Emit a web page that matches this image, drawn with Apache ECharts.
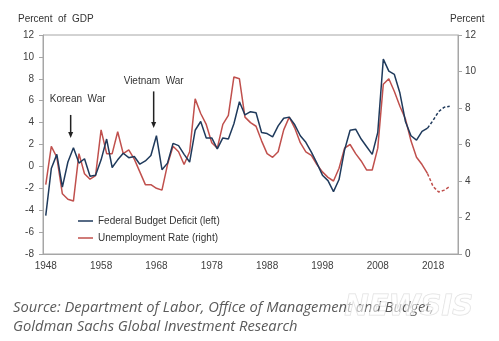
<!DOCTYPE html>
<html>
<head>
<meta charset="utf-8">
<script src="https://cdn.jsdelivr.net/npm/echarts@6/dist/echarts.min.js"></script>
<style>
  html, body { margin: 0; padding: 0; background: #fff; }
  #chart { width: 499px; height: 341px; }
</style>
</head>
<body>
<div id="chart"></div>
<script>
// Fiscal years on the category axis (one slot per year, 1948-2022)
const firstYear = 1948;
const lastYear = 2022;
const years = [];
for (let y = firstYear; y <= lastYear; y++) years.push(String(y));

// Federal budget deficit, % of GDP (positive = deficit), 1948-2017
const deficitActual = [
  -4.5, -0.2, 1.1, -1.9, 0.4, 1.7, 0.3, 0.7, -0.9, -0.8,
   0.6, 2.5, -0.1, 0.6, 1.2, 0.8, 0.9, 0.2, 0.5, 1.0,
   2.8, -0.3, 0.3, 2.1, 1.9, 1.1, 0.4, 3.3, 4.1, 2.6,
   2.6, 1.6, 2.6, 2.5, 3.9, 5.9, 4.7, 5.0, 4.9, 3.1,
   3.0, 2.7, 3.7, 4.4, 4.5, 3.8, 2.8, 2.2, 1.3, 0.3,
  -0.8, -1.3, -2.3, -1.2, 1.5, 3.3, 3.4, 2.5, 1.8, 1.1,
   3.1, 9.8, 8.7, 8.4, 6.7, 4.1, 2.8, 2.4, 3.2, 3.5
];
// Projection, 2017-2021
const deficitProjection = [3.5, 4.2, 5.0, 5.4, 5.5];

// Unemployment rate, %, 1948-2017
const unemploymentActual = [
  3.8, 5.9, 5.3, 3.3, 3.0, 2.9, 5.5, 4.4, 4.1, 4.3,
  6.8, 5.5, 5.5, 6.7, 5.5, 5.7, 5.2, 4.5, 3.8, 3.8,
  3.6, 3.5, 4.9, 5.9, 5.6, 4.9, 5.6, 8.5, 7.7, 7.1,
  6.1, 5.8, 7.1, 7.6, 9.7, 9.6, 7.5, 7.2, 7.0, 6.2,
  5.5, 5.3, 5.6, 6.8, 7.5, 6.9, 6.1, 5.6, 5.4, 4.9,
  4.5, 4.2, 4.0, 4.7, 5.8, 6.0, 5.5, 5.1, 4.6, 4.6,
  5.8, 9.3, 9.6, 8.9, 8.1, 7.4, 6.2, 5.3, 4.9, 4.4
];
// Projection, 2017-2021
const unemploymentProjection = [4.4, 3.7, 3.4, 3.5, 3.7];
const projectionStart = 2017;

const leftTicks = { min: -8, max: 12, interval: 2 };
const rightTicks = { min: 0, max: 12, interval: 2 };

const NAVY = '#1f3a5c';
const RED = '#c0504d';
const AXIS = '#a6a6a6';
const TEXT = '#404040';

function padActual(values) {
  const out = years.map(() => null);
  values.forEach((v, i) => { out[i] = v; });
  return out;
}
function padProjection(values) {
  const out = years.map(() => null);
  const start = projectionStart - firstYear;
  values.forEach((v, i) => { out[start + i] = v; });
  return out;
}

const chart = echarts.init(document.getElementById('chart'), null, { renderer: 'canvas' });

const baseFont = 'Liberation Sans, Arial, sans-serif';

chart.setOption({
  animation: false,
  textStyle: { fontFamily: baseFont },
  grid: {
    left: 43, right: 41, top: 35, bottom: 87,
    show: true, borderColor: AXIS, borderWidth: 1
  },
  legend: {
    data: ['Federal Budget Deficit (left)', 'Unemployment Rate (right)'],
    orient: 'vertical',
    left: 73, top: 211,
    icon: 'rect', itemWidth: 15, itemHeight: 1.5, itemGap: 7,
    textStyle: { fontSize: 10, color: '#333', fontFamily: baseFont }
  },
  xAxis: {
    type: 'category',
    data: years,
    boundaryGap: true,
    axisLine: { onZero: false, lineStyle: { color: AXIS } },
    axisTick: { interval: 9, length: 4, lineStyle: { color: AXIS } },
    axisLabel: { interval: 9, margin: 7, fontSize: 10, color: TEXT }
  },
  yAxis: [
    {
      type: 'value', position: 'left',
      min: leftTicks.min, max: leftTicks.max, interval: leftTicks.interval,
      axisLine: { show: true, lineStyle: { color: AXIS } },
      axisTick: { show: true, length: 4, lineStyle: { color: AXIS } },
      axisLabel: { margin: 9, fontSize: 10, color: TEXT },
      splitLine: { show: false }
    },
    {
      type: 'value', position: 'right',
      min: rightTicks.min, max: rightTicks.max, interval: rightTicks.interval,
      axisLine: { show: true, lineStyle: { color: AXIS } },
      axisTick: { show: true, length: 4, lineStyle: { color: AXIS } },
      axisLabel: { margin: 7, fontSize: 10, color: TEXT },
      splitLine: { show: false }
    }
  ],
  series: [
    {
      name: 'Federal Budget Deficit (left)', type: 'line', yAxisIndex: 0,
      data: padActual(deficitActual), symbol: 'none', color: NAVY,
      lineStyle: { width: 1.5, color: NAVY }, z: 3
    },
    {
      name: 'Federal Budget Deficit projection', type: 'line', yAxisIndex: 0,
      data: padProjection(deficitProjection), symbol: 'none', color: NAVY,
      lineStyle: { width: 1.5, color: NAVY, type: [3, 2] }, z: 3
    },
    {
      name: 'Unemployment Rate (right)', type: 'line', yAxisIndex: 1,
      data: padActual(unemploymentActual), symbol: 'none', color: RED,
      lineStyle: { width: 1.5, color: RED }, z: 2
    },
    {
      name: 'Unemployment Rate projection', type: 'line', yAxisIndex: 1,
      data: padProjection(unemploymentProjection), symbol: 'none', color: RED,
      lineStyle: { width: 1.5, color: RED, type: [3, 2] }, z: 2
    }
  ]
});

// Annotation arrows placed between two fiscal years, in left-axis units
const annotations = [
  { text: 'Korean War', between: ['1952', '1953'], textAt: 6.1, from: 4.7, to: 2.6, dx: 7 },
  { text: 'Vietnam War', between: ['1967', '1968'], textAt: 7.8, from: 6.85, to: 3.5, dx: 0 }
];

function px(cat, val) {
  return chart.convertToPixel({ xAxisIndex: 0, yAxisIndex: 0 }, [cat, val]);
}

const graphics = [
  { type: 'text', left: 18, top: 14, style: { text: 'Percent  of  GDP', font: '10px ' + baseFont, fill: '#333' } },
  { type: 'text', left: 450, top: 14, style: { text: 'Percent', font: '10px ' + baseFont, fill: '#333' } },
  { type: 'text', left: 13, top: 300,
    style: { text: 'Source: Department of Labor, Office of Management and Budget,', font: 'italic 14.7px "Open Sans", sans-serif', fill: '#5a5a5a' } },
  { type: 'text', left: 13, top: 319,
    style: { text: 'Goldman Sachs Global Investment Research', font: 'italic 14.7px "Open Sans", sans-serif', fill: '#5a5a5a' } },
  { type: 'text', left: 344, top: 292, z: 100,
    style: { text: 'NEWSIS', font: 'italic bold 29px "DejaVu Sans", sans-serif', fill: 'rgba(255,255,255,0.6)',
             stroke: 'rgba(180,180,180,0.45)', lineWidth: 1 } }
];

annotations.forEach(a => {
  const p1 = px(a.between[0], a.from);
  const p2 = px(a.between[1], a.from);
  const x = (p1[0] + p2[0]) / 2;
  const yTop = p1[1];
  const yTip = px(a.between[0], a.to)[1];
  const yText = px(a.between[0], a.textAt)[1];
  graphics.push({
    type: 'text', x: x + a.dx, y: yText,
    style: { text: a.text.replace(' ', '  '), font: '10px ' + baseFont, fill: '#333', align: 'center', verticalAlign: 'middle' }
  });
  graphics.push({
    type: 'line', shape: { x1: x, y1: yTop, x2: x, y2: yTip - 5 },
    style: { stroke: '#222', lineWidth: 1.5 }
  });
  graphics.push({
    type: 'polygon', shape: { points: [[x - 2.5, yTip - 6], [x + 2.5, yTip - 6], [x, yTip]] },
    style: { fill: '#222' }
  });
});

chart.setOption({ graphic: graphics });
</script>
</body>
</html>
